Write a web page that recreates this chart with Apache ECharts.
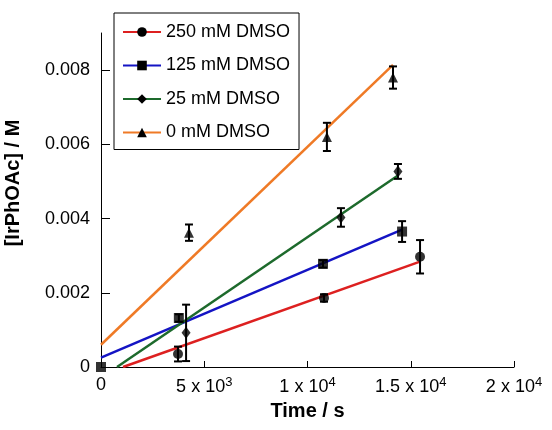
<!DOCTYPE html>
<html>
<head>
<meta charset="utf-8">
<script src="https://cdn.jsdelivr.net/npm/echarts@6/dist/echarts.min.js"></script>
<style>
  html, body { margin: 0; padding: 0; background: #fff; }
  #chart { width: 552px; height: 430px; }
</style>
</head>
<body>
<div id="chart"></div>
<script>
// measured points: [time (s), concentration (M)]
const names = ['250 mM DMSO', '125 mM DMSO', '25 mM DMSO', '0 mM DMSO'];
const colors = ['#dd2020', '#1414c4', '#1d6a2c', '#ef7a26'];
const symbols = ['circle', 'rect', 'diamond', 'triangle'];

const pts250 = [[3730, 0.00035], [10800, 0.00186], [15450, 0.00297]];
const err250 = [0.0002, 0.0001, 0.00045];
const pts125 = [[0, 0], [3770, 0.00132], [10750, 0.00278], [14580, 0.00365]];
const err125 = [0, 0.0001, 0.0001, 0.00028];
const pts25 = [[4120, 0.00092], [11620, 0.00403], [14380, 0.00527]];
const err25 = [0.00076, 0.00025, 0.0002];
const pts0 = [[4260, 0.00362], [10940, 0.0062], [14140, 0.0078]];
const err0 = [0.00022, 0.00038, 0.0003];

// fitted lines (end points)
const fit250 = [[1065, 0], [15450, 0.00284]];
const fit125 = [[0, 0.00025], [14580, 0.0037]];
const fit25 = [[775, 0], [14380, 0.00516]];
const fit0 = [[0, 0.0006], [14140, 0.00814]];

const xTicks = [0, 5000, 10000, 15000, 20000];
const xTickLabels = ['0', '5 x 10{s|3}', '1 x 10{s|4}', '1.5 x 10{s|4}', '2 x 10{s|4}'];
const yTicks = [0, 0.002, 0.004, 0.006, 0.008];

const points = [pts250, pts125, pts25, pts0];
const errors = [err250, err125, err25, err0];
const fits = [fit250, fit125, fit25, fit0];
const symbolSizes = [10, 10, [9, 12], 10];

const font = 'Liberation Sans, Arial, sans-serif';
const chart = echarts.init(document.getElementById('chart'));

const series = [];
fits.forEach((fit, i) => {
  series.push({
    name: names[i],
    type: 'line',
    data: fit,
    symbol: symbols[i],
    showSymbol: false,
    silent: true,
    lineStyle: { color: colors[i], width: 2.5 },
    itemStyle: { color: colors[i] },
    z: 2,
  });
});
points.forEach((pts, i) => {
  const bars = pts.map((p, j) => [p[0], p[1], errors[i][j]]);
  series.push({
    type: 'custom',
    data: bars,
    silent: true,
    z: 3,
    renderItem: (params, api) => {
      const x = api.value(0), y = api.value(1), e = api.value(2);
      if (!e) return null;
      const top = api.coord([x, y + e]);
      const bot = api.coord([x, y - e]);
      const w = 4;
      const st = { stroke: '#000', lineWidth: 2 };
      return {
        type: 'group',
        children: [
          { type: 'line', shape: { x1: top[0], y1: top[1], x2: bot[0], y2: bot[1] }, style: st },
          { type: 'line', shape: { x1: top[0] - w, y1: top[1], x2: top[0] + w, y2: top[1] }, style: st },
          { type: 'line', shape: { x1: bot[0] - w, y1: bot[1], x2: bot[0] + w, y2: bot[1] }, style: st },
        ],
      };
    },
  });
  series.push({
    type: 'scatter',
    data: pts,
    symbol: symbols[i],
    symbolSize: symbolSizes[i],
    silent: true,
    itemStyle: { color: '#000' },
    z: 4,
  });
});

chart.setOption({
  animation: false,
  backgroundColor: '#fff',
  textStyle: { fontFamily: font, color: '#000' },
  grid: { left: 101, right: 38, top: 33, bottom: 63, outerBoundsMode: 'none', containLabel: false },
  legend: {
    data: names,
    orient: 'vertical',
    left: 114,
    top: 13,
    padding: [10, 9, 8, 8],
    itemWidth: 38,
    itemHeight: 12,
    itemGap: 15.5,
    borderColor: '#000',
    borderWidth: 1,
    backgroundColor: '#fff',
    itemStyle: { color: '#000', borderWidth: 0 },
    textStyle: { fontFamily: font, fontSize: 18, color: '#000' },
  },
  xAxis: {
    type: 'value',
    min: 0,
    max: 20000,
    name: 'Time / s',
    nameLocation: 'middle',
    nameGap: 34,
    nameTextStyle: { fontFamily: font, fontSize: 20, fontWeight: 'bold', color: '#000' },
    axisLine: { onZero: false, lineStyle: { color: '#000', width: 1 } },
    axisTick: { inside: true, length: 6, customValues: xTicks, lineStyle: { color: '#000' } },
    axisLabel: {
      customValues: xTicks,
      margin: 9,
      fontSize: 18,
      color: '#000',
      fontFamily: font,
      formatter: (v) => xTickLabels[xTicks.indexOf(v)],
      rich: { s: { fontSize: 13, fontFamily: font, color: '#000', padding: [0, 0, 10, 0] } },
    },
    splitLine: { show: false },
  },
  yAxis: {
    type: 'value',
    min: 0,
    max: 0.009,
    name: '[IrPhOAc] / M',
    nameLocation: 'middle',
    nameGap: 78,
    nameTextStyle: { fontFamily: font, fontSize: 20, fontWeight: 'bold', color: '#000', padding: [0, 0, 0, 34] },
    axisLine: { show: true, onZero: false, lineStyle: { color: '#000', width: 1 } },
    axisTick: { show: true, inside: true, length: 9, customValues: yTicks, lineStyle: { color: '#000' } },
    axisLabel: {
      customValues: yTicks,
      margin: 11,
      fontSize: 18,
      color: '#000',
      fontFamily: font,
      formatter: (v) => (v === 0 ? '0' : v.toFixed(3)),
    },
    splitLine: { show: false },
  },
  series: series,
});
</script>
</body>
</html>
